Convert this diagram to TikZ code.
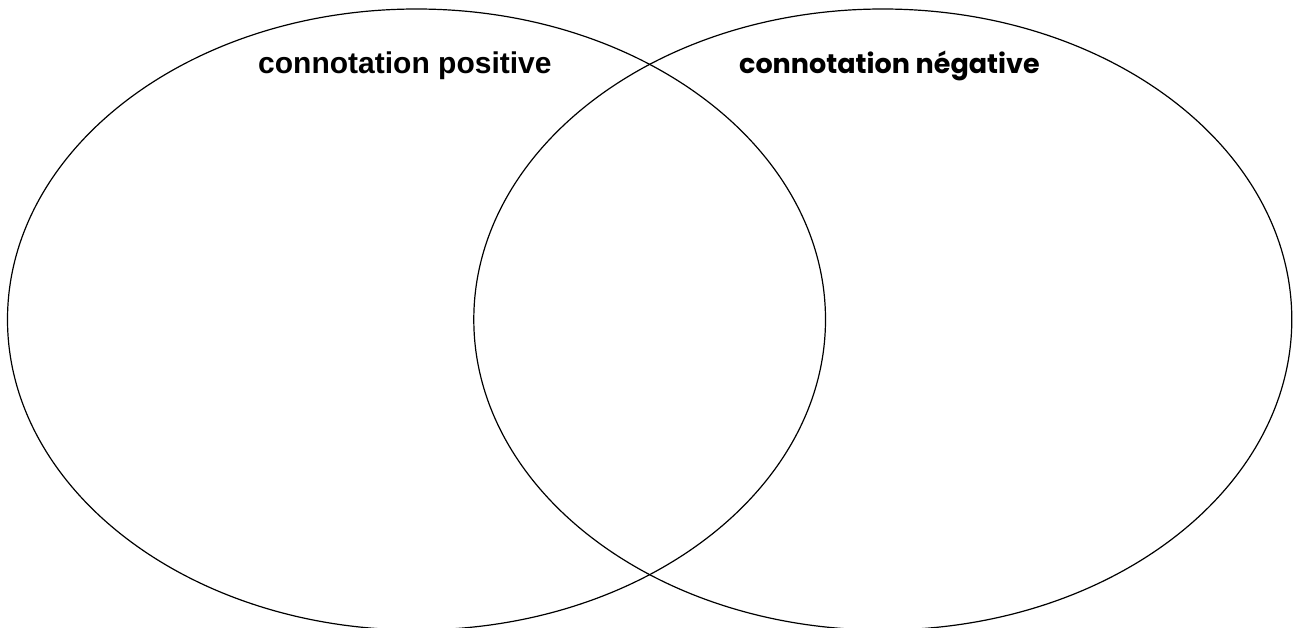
\documentclass[tikz,border=0pt]{standalone}
\usepackage{fontspec}
\setmainfont{Liberation Sans}
\newfontfamily\poppfont{Poppins}
\tikzset{
  vennring/.style={draw=black, line width=1.2pt},
  titlelabel/.style={anchor=base west, inner sep=0pt, font=\fontsize{30}{36}\selectfont\bfseries}
}
\begin{document}
\begin{tikzpicture}[x=1pt,y=-1pt]
\useasboundingbox (0,0) rectangle (1293,627);
\clip (0,0) rectangle (1293,627);
\fill[white] (0,0) rectangle (1293,627);
\draw[vennring] (416.5,319.5) ellipse [x radius=409, y radius=310.5];
\draw[vennring] (882.8,319.5) ellipse [x radius=409, y radius=310.5];
\node[titlelabel] (pos) at (258,73) {connotation positive};
\node[titlelabel, font=\fontsize{27}{32}\poppfont\bfseries] (neg) at (739,73) {connotation négative};
\end{tikzpicture}
\end{document}
